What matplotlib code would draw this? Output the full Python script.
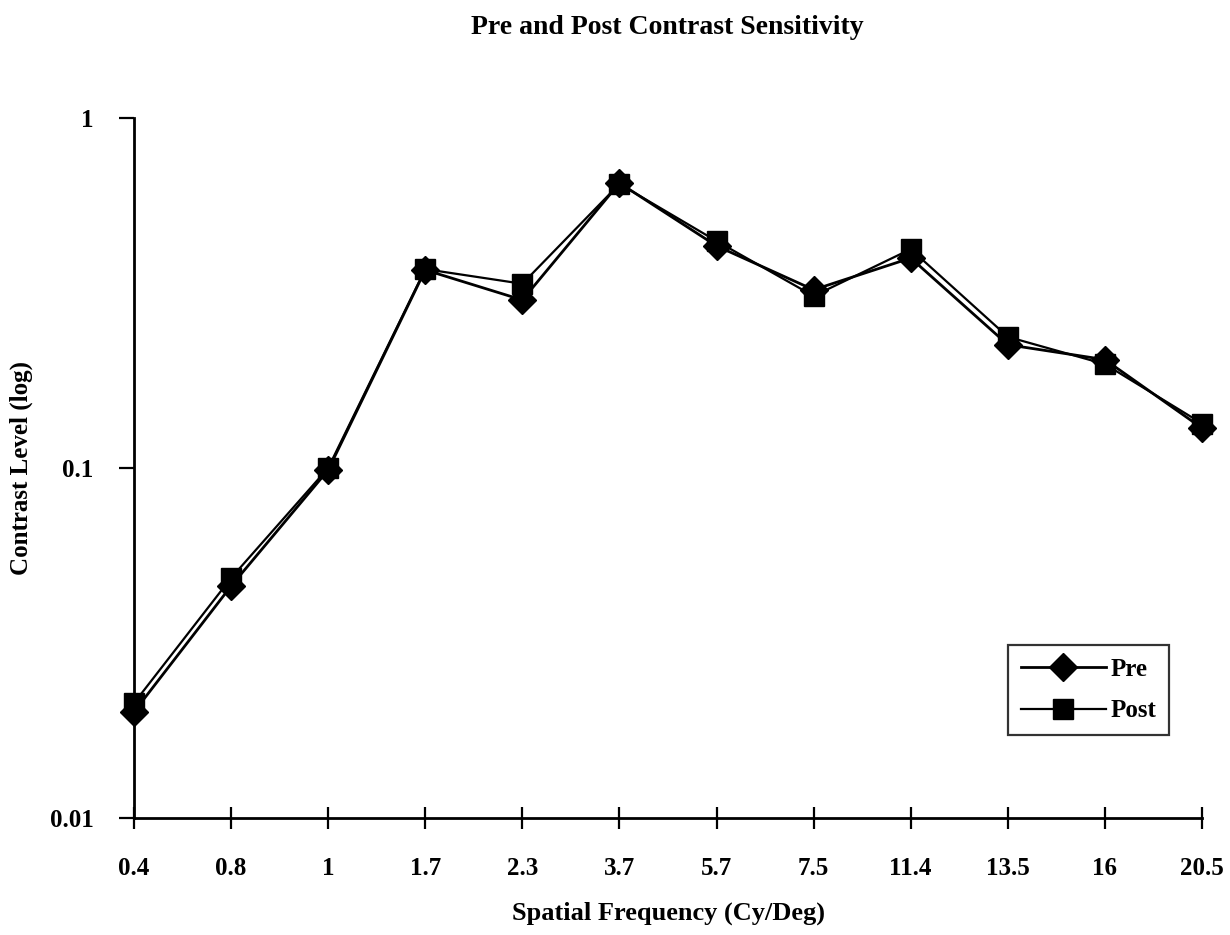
import matplotlib
matplotlib.use("Agg")
import matplotlib.pyplot as plt
from matplotlib.ticker import FixedLocator, NullLocator

# Spatial frequencies (cycles/degree) and contrast thresholds
frequencies = ["0.4", "0.8", "1", "1.7", "2.3", "3.7", "5.7", "7.5", "11.4", "13.5", "16", "20.5"]
pre_values = [0.0201, 0.046, 0.0987, 0.368, 0.302, 0.652, 0.431, 0.323, 0.398, 0.225, 0.204, 0.130]
post_values = [0.0213, 0.0485, 0.100, 0.370, 0.336, 0.648, 0.445, 0.310, 0.422, 0.237, 0.198, 0.134]
y_ticks = [0.01, 0.1, 1]
y_tick_labels = ["0.01", "0.1", "1"]

plt.rcParams["font.family"] = ["Liberation Serif", "DejaVu Serif"]

fig = plt.figure(figsize=(12.3, 9.35), dpi=100)
ax = fig.add_axes([134 / 1230, 1 - 818 / 935, (1202 - 134) / 1230, (818 - 118) / 935])

x = list(range(len(frequencies)))
ax.plot(x, pre_values, color="black", lw=2, marker="D", ms=14, label="Pre", clip_on=False, zorder=3)
ax.plot(x, post_values, color="black", lw=1.6, marker="s", ms=14.5, label="Post", clip_on=False, zorder=4)

ax.set_yscale("log")
ax.set_ylim(0.01, 1)
ax.set_xlim(0, len(frequencies) - 1)
ax.yaxis.set_major_locator(FixedLocator(y_ticks))
ax.yaxis.set_minor_locator(NullLocator())
ax.set_yticklabels(y_tick_labels)
ax.set_xticks(x)
ax.set_xticklabels(frequencies)

for side in ("top", "right"):
    ax.spines[side].set_visible(False)
for side in ("left", "bottom"):
    ax.spines[side].set_linewidth(2)

ax.tick_params(axis="x", direction="inout", length=16, width=1.6, pad=20,
               labelsize=18)
ax.tick_params(axis="y", direction="out", length=11, width=1.6, pad=18,
               labelsize=18)
for lbl in ax.get_xticklabels() + ax.get_yticklabels():
    lbl.set_fontweight("bold")

ax.set_xlabel("Spatial Frequency (Cy/Deg)", fontsize=19, fontweight="bold")
ax.xaxis.set_label_coords(0.5, -(902 - 818) / 700)
ax.set_ylabel("Contrast Level (log)", fontsize=18, fontweight="bold")
ax.yaxis.set_label_coords(-(134 - 33) / 1068, 0.5)
fig.text(667 / 1230, 1 - 28 / 935, "Pre and Post Contrast Sensitivity", ha="center", va="center",
         fontsize=20, fontweight="bold")

leg = ax.legend(loc="upper left", bbox_to_anchor=((1008 - 134) / 1068, 1 - (645 - 118) / 700),
                frameon=True, fancybox=False, edgecolor="black", fontsize=18,
                handlelength=3.4, handletextpad=0.2, borderpad=0.5, labelspacing=0.75,
                borderaxespad=0)
leg.get_frame().set_linewidth(1.6)
for t in leg.get_texts():
    t.set_fontweight("bold")

fig.savefig("out.png", dpi=100, facecolor="white")
